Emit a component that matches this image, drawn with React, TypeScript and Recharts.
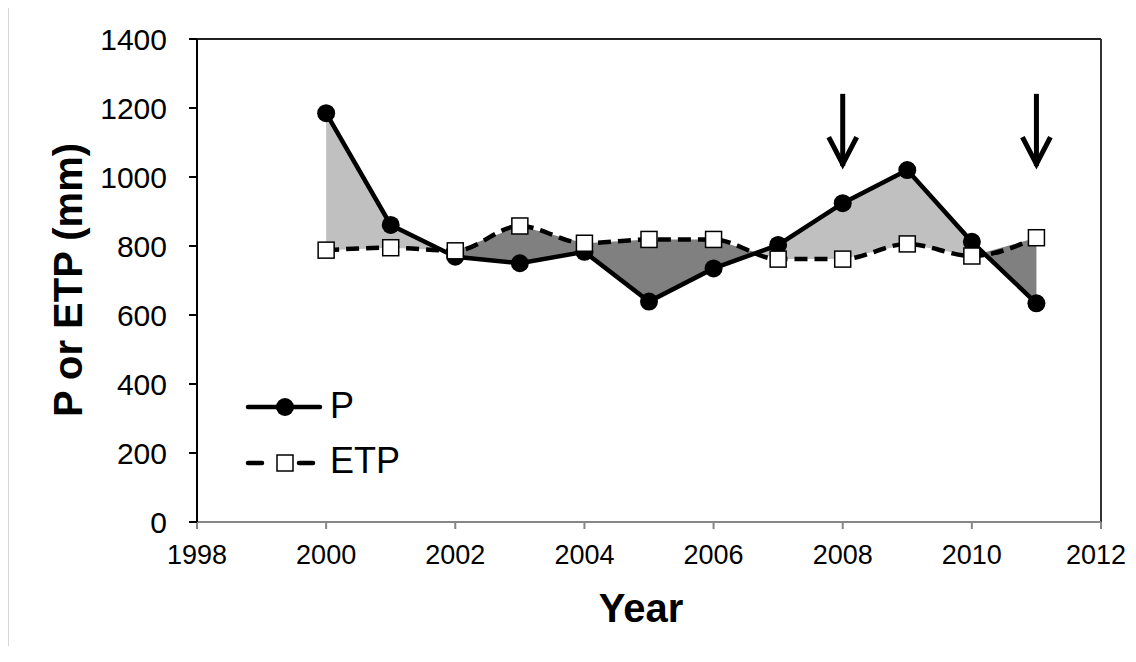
import React from 'react'
import { ComposedChart, Line, Area, XAxis, YAxis, ReferenceLine, Legend, Label } from 'recharts'

// annual precipitation (P) and potential evapotranspiration (ETP), mm
const years = [2000, 2001, 2002, 2003, 2004, 2005, 2006, 2007, 2008, 2009, 2010, 2011]
const pValues = [1185, 861, 769, 750, 783, 639, 735, 803, 924, 1020, 812, 634]
const etpValues = [788, 795, 786, 858, 808, 819, 819, 762, 762, 806, 771, 824]

const xTicks = [1998, 2000, 2002, 2004, 2006, 2008, 2010, 2012]
const yTicks = [0, 200, 400, 600, 800, 1000, 1200, 1400]

// years marked with an arrow, and the arrow's top / tip in mm
const arrowYears = [2008, 2011]
const arrowTop = 1241
const arrowTip = 1023

const LIGHT = '#c0c0c0'
const DARK = '#808080'
const FONT = '"Liberation Sans", Arial, sans-serif'

const data = years.map((year, i) => ({ year, p: pValues[i], etp: etpValues[i] }))

// gradient stops: light where P > ETP, dark where P < ETP, switching where the lines cross
function buildStops() {
  const first = years[0]
  const span = years[years.length - 1] - first
  const stops: { offset: number; color: string }[] = []
  let color = pValues[0] >= etpValues[0] ? LIGHT : DARK
  stops.push({ offset: 0, color })
  for (let i = 0; i < years.length - 1; i++) {
    const d0 = pValues[i] - etpValues[i]
    const d1 = pValues[i + 1] - etpValues[i + 1]
    if ((d0 >= 0) !== (d1 >= 0)) {
      const t = d0 / (d0 - d1)
      const off = (years[i] + t * (years[i + 1] - years[i]) - first) / span
      stops.push({ offset: off, color })
      color = d1 >= 0 ? LIGHT : DARK
      stops.push({ offset: off, color })
    }
  }
  stops.push({ offset: 1, color })
  return stops
}
const stops = buildStops()

const Square = (props: any) => {
  const { cx, cy, index } = props
  if (cx == null || cy == null) return <g key={`sq-${index}`} />
  return (
    <rect key={`sq-${index}`} x={cx - 8} y={cy - 8} width={16} height={16} fill="#fff" stroke="#000" strokeWidth={1.5} />
  )
}

// x tick; the last label is nudged left so it stays inside the frame
const YearTick = (props: any) => {
  const { x, y, payload } = props
  const last = payload.value === xTicks[xTicks.length - 1]
  return (
    <text x={x} y={y} dx={last ? -5 : 0} dy="0.71em" textAnchor="middle" fontSize={27} fill="#000">
      {payload.value}
    </text>
  )
}

const Arrow = (props: any) => {
  const { x1, y1, x2, y2 } = props
  return (
    <g>
      <line x1={x1} y1={y1} x2={x2} y2={y2 - 3} stroke="#000" strokeWidth={5} />
      <path d={`M${x2 - 14},${y2 - 32} L${x2},${y2 - 5} L${x2 + 14},${y2 - 32}`} fill="none" stroke="#000" strokeWidth={5} />
    </g>
  )
}

const LegendBox = () => (
  <svg width={220} height={110} style={{ fontFamily: FONT }}>
    <line x1={9} y1={30} x2={81} y2={30} stroke="#000" strokeWidth={4.5} strokeLinecap="round" />
    <circle cx={46} cy={30} r={9} fill="#000" />
    <text x={91} y={41} fontSize={36} fill="#000">P</text>
    <line x1={9} y1={86} x2={23} y2={86} stroke="#000" strokeWidth={4.5} strokeLinecap="round" />
    <line x1={60} y1={86} x2={74} y2={86} stroke="#000" strokeWidth={4.5} strokeLinecap="round" />
    <rect x={38} y={78} width={16} height={16} fill="#fff" stroke="#000" strokeWidth={1.5} />
    <text x={91} y={96} fontSize={36} fill="#000">ETP</text>
  </svg>
)

export default function App() {
  return (
    <div
      style={{
        position: 'relative',
        boxSizing: 'border-box',
        width: 1128,
        height: 640,
        marginTop: -2,
        borderTop: '1px solid #d6d6d6',
        borderLeft: '1px solid #d6d6d6',
        background: '#fff',
        overflow: 'hidden',
      }}
    >
      <ComposedChart
        width={1127}
        height={639}
        data={data}
        margin={{ top: 32, right: 35, left: 88, bottom: 24 }}
        style={{ fontFamily: FONT }}
      >
        <defs>
          <linearGradient id="diffFill" x1="0" y1="0" x2="1" y2="0">
            {stops.map((s, i) => (
              <stop key={i} offset={s.offset} stopColor={s.color} />
            ))}
          </linearGradient>
        </defs>
        <XAxis
          dataKey="year"
          type="number"
          domain={[1998, 2012]}
          ticks={xTicks}
          allowDataOverflow
          height={100}
          stroke="#868686"
          strokeWidth={2}
          tickSize={7}
          tickMargin={16}
          tick={<YearTick />}
        >
          <Label
            content={() => (
              <text x={632} y={615} textAnchor="middle" fontSize={40} fontWeight="bold" fill="#000">
                Year
              </text>
            )}
          />
        </XAxis>
        <YAxis
          type="number"
          domain={[0, 1400]}
          ticks={yTicks}
          width={100}
          stroke="#000"
          strokeWidth={2}
          tickSize={8}
          tickMargin={22}
          tick={{ fill: '#000', fontSize: 30 }}
        >
          <Label
            content={() => (
              <text x={73} y={273} transform="rotate(-90 73 273)" textAnchor="middle" fontSize={40} fontWeight="bold" fill="#000">
                P or ETP (mm)
              </text>
            )}
          />
        </YAxis>
        <ReferenceLine y={1400} stroke="#222" strokeWidth={2} />
        <ReferenceLine x={2012} stroke="#333" strokeWidth={2} />
        <Area
          dataKey={(d: any) => [d.etp, d.p]}
          type="linear"
          stroke="none"
          fill="url(#diffFill)"
          fillOpacity={1}
          isAnimationActive={false}
          legendType="none"
        />
        <Line
          dataKey="p"
          type="linear"
          stroke="#000"
          strokeWidth={4.5}
          dot={{ r: 9, fill: '#000', stroke: '#000', strokeWidth: 0 }}
          activeDot={false}
          isAnimationActive={false}
        />
        <Line
          dataKey="etp"
          type="monotone"
          stroke="#000"
          strokeWidth={4.5}
          strokeDasharray="13 7"
          dot={<Square />}
          activeDot={false}
          isAnimationActive={false}
        />
        {arrowYears.map((yr) => (
          <ReferenceLine
            key={yr}
            segment={[
              { x: yr, y: arrowTop },
              { x: yr, y: arrowTip },
            ]}
            shape={<Arrow />}
          />
        ))}
        <Legend
          layout="vertical"
          align="center"
          verticalAlign="middle"
          content={() => <LegendBox />}
          wrapperStyle={{ left: 230, top: 370, width: 220, height: 110 }}
        />
      </ComposedChart>
    </div>
  )
}
